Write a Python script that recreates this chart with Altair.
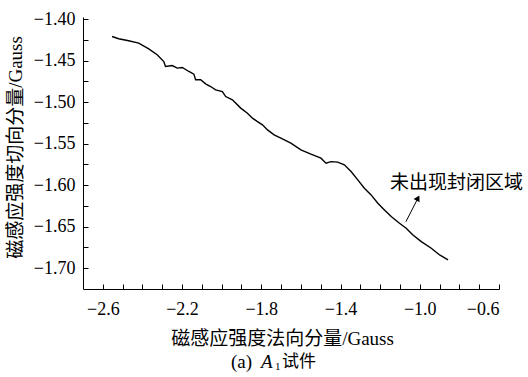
import altair as alt
import pandas as pd

# ---- data ----
xs = [-2.5534, -2.5200, -2.4694, -2.4187, -2.3681, -2.3256, -2.2922, -2.2835,
      -2.2496, -2.2243, -2.1990, -2.1656, -2.1403, -2.1316, -2.1063, -2.0810,
      -2.0557, -2.0304, -1.9965, -1.9797, -1.9458, -1.9038, -1.8699, -1.8446,
      -1.8192, -1.7939, -1.7686, -1.7352, -1.7013, -1.6506, -1.6000, -1.5494,
      -1.4987, -1.4734, -1.4481, -1.4142, -1.3808, -1.3468, -1.3129, -1.2795,
      -1.2456, -1.2116, -1.1782, -1.1443, -1.1023, -1.0684, -1.0344, -0.9924,
      -0.9418, -0.8997, -0.8572]
ys = [-1.4210, -1.4237, -1.4261, -1.4289, -1.4358, -1.4430, -1.4511, -1.4571,
      -1.4559, -1.4590, -1.4583, -1.4631, -1.4663, -1.4731, -1.4731, -1.4780,
      -1.4812, -1.4852, -1.4872, -1.4933, -1.4972, -1.5072, -1.5133, -1.5193,
      -1.5234, -1.5273, -1.5334, -1.5394, -1.5434, -1.5494, -1.5575, -1.5627,
      -1.5675, -1.5735, -1.5716, -1.5723, -1.5755, -1.5836, -1.5936, -1.6036,
      -1.6117, -1.6217, -1.6298, -1.6378, -1.6458, -1.6518, -1.6599, -1.6680,
      -1.6759, -1.6840, -1.6900]

x_domain = [-2.7, -0.6]
y_domain = [-1.725, -1.3975]
x_labels = [-2.6, -2.2, -1.8, -1.4, -1.0, -0.6]
x_ticks = [-2.6, -2.5, -2.4, -2.3, -2.2, -2.1, -2.0, -1.9, -1.8, -1.7, -1.6,
           -1.5, -1.4, -1.3, -1.2, -1.1, -1.0, -0.9, -0.8, -0.7, -0.6]
y_labels = [-1.40, -1.45, -1.50, -1.55, -1.60, -1.65, -1.70]
y_ticks = [-1.400, -1.425, -1.450, -1.475, -1.500, -1.525, -1.550, -1.575,
           -1.600, -1.625, -1.650, -1.675, -1.700]

arrow_tail = {"x": -1.070, "y": -1.644}
arrow_head = {"x": -1.009, "y": -1.6156}
note = {"x": -1.150, "y": -1.5969, "text": "未出现封闭区域"}

x_title = "磁感应强度法向分量/Gauss"
y_title = "磁感应强度切向分量/Gauss"

SERIF = "Liberation Serif, Noto Sans CJK SC"
CJK = "Noto Sans CJK SC"

W, H = 416, 272

df = pd.DataFrame({"x": xs, "y": ys})
xscale = alt.Scale(domain=x_domain, nice=False, zero=False)
yscale = alt.Scale(domain=y_domain, nice=False, zero=False)

line = alt.Chart(df).mark_line(color="black", strokeWidth=1.4).encode(
    x=alt.X("x:Q", scale=xscale, axis=alt.Axis(
        values=x_labels, format=".1f",
        labelExpr="replace(datum.label, '-', '\u2212')",
        ticks=False, tickSize=0, labelPadding=11,
        labelFont="Liberation Serif", labelFontSize=18, labelColor="black",
        domainColor="black", domainWidth=1, grid=False,
        title=x_title, titleFont=SERIF, titleFontSize=19, titleFontWeight="normal",
        titleColor="black", titleX=199, titleY=49, titleBaseline="middle",
        titleAlign="center")),
    y=alt.Y("y:Q", scale=yscale, axis=alt.Axis(
        values=y_labels, format=".2f",
        labelExpr="replace(datum.label, '-', '\u2212')",
        ticks=False, tickSize=0, labelPadding=8,
        labelFont="Liberation Serif", labelFontSize=18, labelColor="black",
        domainColor="black", domainWidth=1, grid=False,
        title=y_title, titleFont=SERIF, titleFontSize=19, titleFontWeight="normal",
        titleColor="black", titleX=-68, titleY=130, titleBaseline="middle",
        titleAlign="center", titleAngle=270)),
    order=alt.Order("x:Q"),
)

tick_layer = alt.Chart(df).mark_point(opacity=0).encode(
    x=alt.X("x:Q", scale=xscale, axis=alt.Axis(
        orient="top", offset=-H, values=x_ticks, labels=False, domain=False,
        ticks=True, tickSize=5, tickColor="black", tickWidth=1, grid=False, title="")),
    y=alt.Y("y:Q", scale=yscale, axis=alt.Axis(
        orient="right", offset=-W, values=y_ticks, labels=False, domain=False,
        ticks=True, tickSize=5, tickColor="black", tickWidth=1, grid=False, title="")),
)

arrow_df = pd.DataFrame([{"x": arrow_tail["x"], "y": arrow_tail["y"],
                          "x2": arrow_head["x"], "y2": arrow_head["y"]}])
arrow_line = alt.Chart(arrow_df).mark_rule(color="black", strokeWidth=1).encode(
    x=alt.X("x:Q", scale=xscale, axis=None), y=alt.Y("y:Q", scale=yscale, axis=None),
    x2="x2:Q", y2="y2:Q")
arrow_tip = alt.Chart(arrow_df).mark_point(
    shape="triangle-up", filled=True, color="black", size=45, angle=29, opacity=1
).encode(x=alt.X("x2:Q", scale=xscale, axis=None), y=alt.Y("y2:Q", scale=yscale, axis=None))

note_df = pd.DataFrame([note])
note_text = alt.Chart(note_df).mark_text(
    font=CJK, fontSize=19, align="left", baseline="middle", color="black"
).encode(x=alt.X("x:Q", scale=xscale, axis=None), y=alt.Y("y:Q", scale=yscale, axis=None),
         text="text:N")

cap_df = pd.DataFrame([{"a": "(a)", "b": "A", "c": "1", "d": "试件"}])
cap_a = alt.Chart(cap_df).mark_text(font="Liberation Serif", fontSize=19, align="left",
                                    baseline="middle", color="black").encode(
    x=alt.value(148), y=alt.value(345), text="a:N")
cap_b = alt.Chart(cap_df).mark_text(font="Liberation Serif", fontSize=19, fontStyle="italic",
                                    align="left", baseline="middle", color="black").encode(
    x=alt.value(178), y=alt.value(345), text="b:N")
cap_c = alt.Chart(cap_df).mark_text(font="Liberation Serif", fontSize=11, align="left",
                                    baseline="middle", color="black").encode(
    x=alt.value(192), y=alt.value(350), text="c:N")
cap_d = alt.Chart(cap_df).mark_text(font=CJK, fontSize=17, align="left",
                                    baseline="middle", color="black").encode(
    x=alt.value(199), y=alt.value(345), text="d:N")

chart = alt.layer(
    line, tick_layer, arrow_line, arrow_tip, note_text, cap_a, cap_b, cap_c, cap_d
).resolve_axis(x="independent", y="independent").properties(
    width=W, height=H,
    autosize=alt.AutoSizeParams(type="none"),
    padding={"left": 83, "top": 17, "right": 29, "bottom": 88},
    background="white",
).configure_view(stroke=None)

chart.save("out.html", embed_options={"renderer": "svg", "actions": False})
